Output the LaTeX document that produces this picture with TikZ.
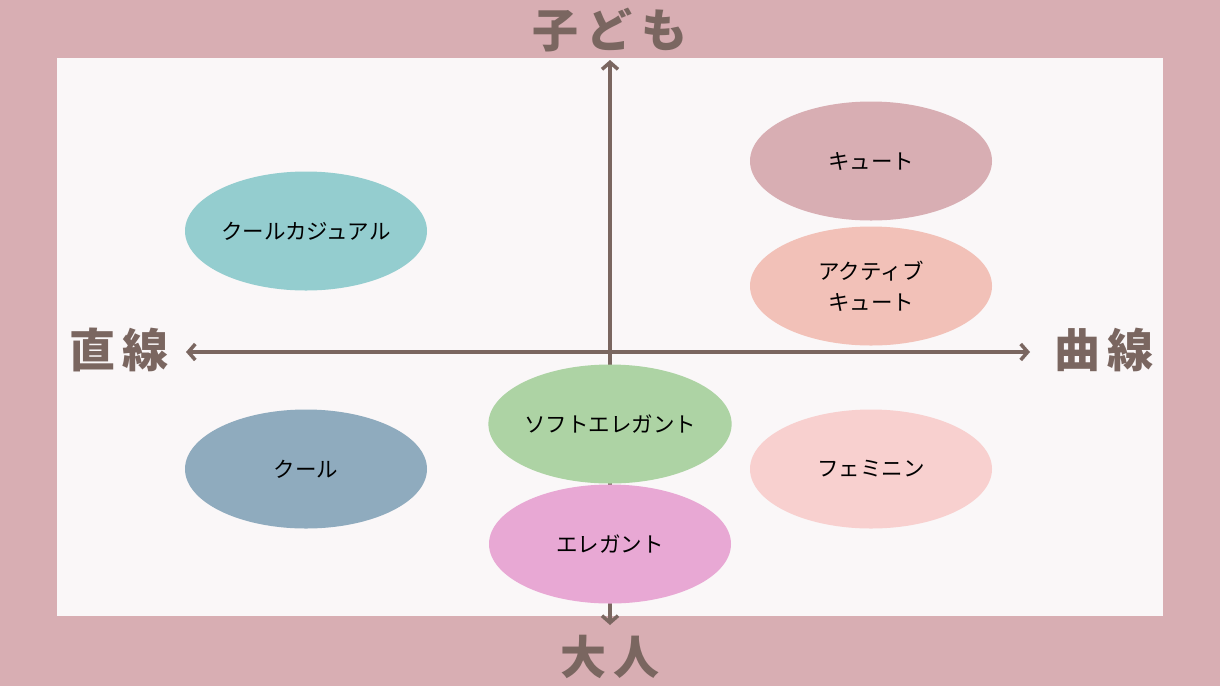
\documentclass[tikz,border=0pt]{standalone}
\usepackage{fontspec}
\setmainfont{Noto Sans CJK JP}
\newfontfamily\cjk{Noto Sans CJK JP}
\usetikzlibrary{arrows.meta,shapes.geometric}
\definecolor{outerbg}{HTML}{D8AEB3}
\definecolor{innerbg}{HTML}{FAF7F8}
\definecolor{axisc}{HTML}{7A6660}
\definecolor{cA}{HTML}{94CDCF}
\definecolor{cB}{HTML}{D8AEB3}
\definecolor{cC}{HTML}{F2C1B8}
\definecolor{cD}{HTML}{ADD3A4}
\definecolor{cE}{HTML}{8FABBE}
\definecolor{cF}{HTML}{F8D0CF}
\definecolor{cG}{HTML}{E8A8D4}
\tikzset{
  blob/.style={ellipse, minimum width=242pt, minimum height=119pt, inner sep=0pt,
    align=center, font=\cjk\fontsize{21.5}{31}\selectfont, text=black},
  axisline/.style={draw=axisc, line width=4pt, line cap=round,
    arrows={Straight Barb[length=7pt,width=16pt,line width=3.5pt]-Straight Barb[length=7pt,width=16pt,line width=3.5pt]}},
  axlabel/.style={font=\cjk\bfseries\fontsize{46}{46}\selectfont, text=axisc, inner sep=0pt}
}
\begin{document}
\begin{tikzpicture}[x=1pt,y=-1pt]
\useasboundingbox (0,0) rectangle (1220,686);
\fill[outerbg] (0,0) rectangle (1220,686);
\fill[innerbg] (57,58) rectangle (1163,616);
\coordinate (top) at (610,60);
\coordinate (bot) at (610,625);
\coordinate (lft) at (186,352);
\coordinate (rgt) at (1030,352);
\draw[axisline] (bot) -- (top);
\draw[axisline] (lft) -- (rgt);
\node[axlabel] (kodomo) at (610,30) {子\hspace{9pt}ど\hspace{9pt}も};
\node[axlabel] (otona) at (610,657) {大\hspace{7pt}人};
\node[axlabel] (chokusen) at (119,350) {直\hspace{7pt}線};
\node[axlabel] (kyokusen) at (1104,350) {曲\hspace{7pt}線};
\node[blob, fill=cA] (coolcas) at (306,231) {クールカジュアル};
\node[blob, fill=cB] (cute) at (871,161) {キュート};
\node[blob, fill=cC] (active) at (871,286) {アクティブ\\キュート};
\node[blob, fill=cD] (soft) at (610,424) {ソフトエレガント};
\node[blob, fill=cE] (cool) at (306,469) {クール};
\node[blob, fill=cF] (femi) at (871,469) {フェミニン};
\node[blob, fill=cG] (eleg) at (610,544) {エレガント};
\end{tikzpicture}
\end{document}
